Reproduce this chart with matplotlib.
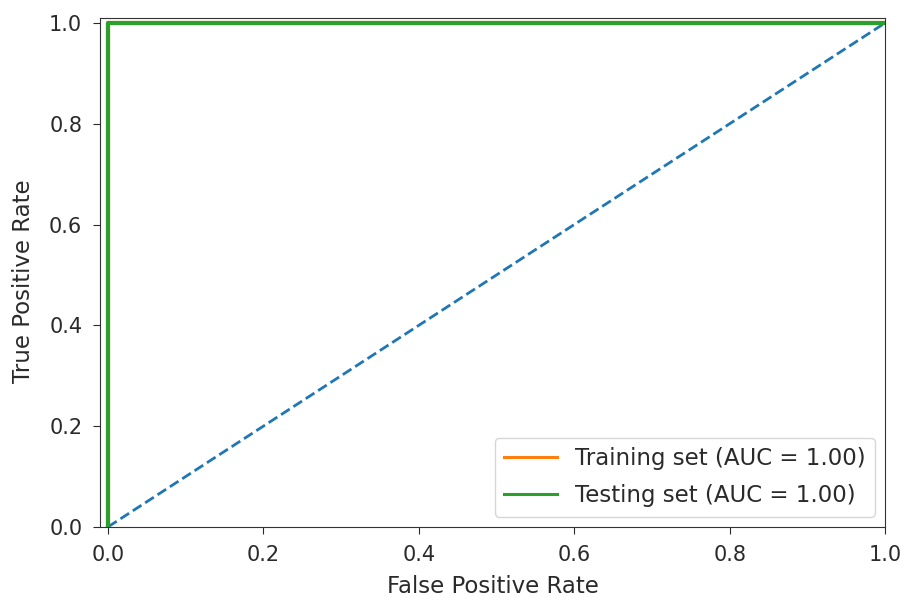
import matplotlib
matplotlib.use("Agg")
import matplotlib.pyplot as plt

# ROC points
train_fpr = [0.0, 0.0, 1.0]
train_tpr = [0.0, 1.0, 1.0]
test_fpr = [0.0, 0.0, 1.0]
test_tpr = [0.0, 1.0, 1.0]
train_auc = 1.00
test_auc = 1.00
chance = [0.0, 1.0]

plt.rcParams['font.family'] = ['DejaVu Sans']
plt.rcParams['font.size'] = 16.5
plt.rcParams['xtick.labelsize'] = 15
plt.rcParams['ytick.labelsize'] = 15
plt.rcParams['text.color'] = '#2a2a2a'
plt.rcParams['xtick.color'] = '#2a2a2a'
plt.rcParams['ytick.color'] = '#2a2a2a'
plt.rcParams['axes.labelcolor'] = '#2a2a2a'
plt.rcParams['xtick.major.size'] = 5
plt.rcParams['ytick.major.size'] = 5
plt.rcParams['xtick.major.pad'] = 8
plt.rcParams['ytick.major.pad'] = 8

fig = plt.figure(figsize=(9.04, 5.98), dpi=100)
ax = fig.add_axes([0.111, 0.119, 0.868, 0.851])

ax.plot(chance, chance, linestyle='--', color='C0', lw=2.0)
ax.plot(train_fpr, train_tpr, color='C1', lw=3.0, label=f"Training set (AUC = {train_auc:.2f})")
ax.plot(test_fpr, test_tpr, color='C2', lw=3.0, label=f"Testing set (AUC = {test_auc:.2f})")

ax.set_xlim(-0.01, 1.0)
ax.set_ylim(0.0, 1.01)
ax.set_xlabel("False Positive Rate", labelpad=7)
ax.set_ylabel("True Positive Rate")
ax.yaxis.set_label_coords(-0.083, 0.483)
leg = ax.legend(loc='lower right', handlelength=2.3, labelspacing=0.63, borderaxespad=0.45)
for line in leg.get_lines():
    line.set_linewidth(2.2)
for s in ax.spines.values():
    s.set_color('#333333')

fig.savefig("out.png", dpi=100)
